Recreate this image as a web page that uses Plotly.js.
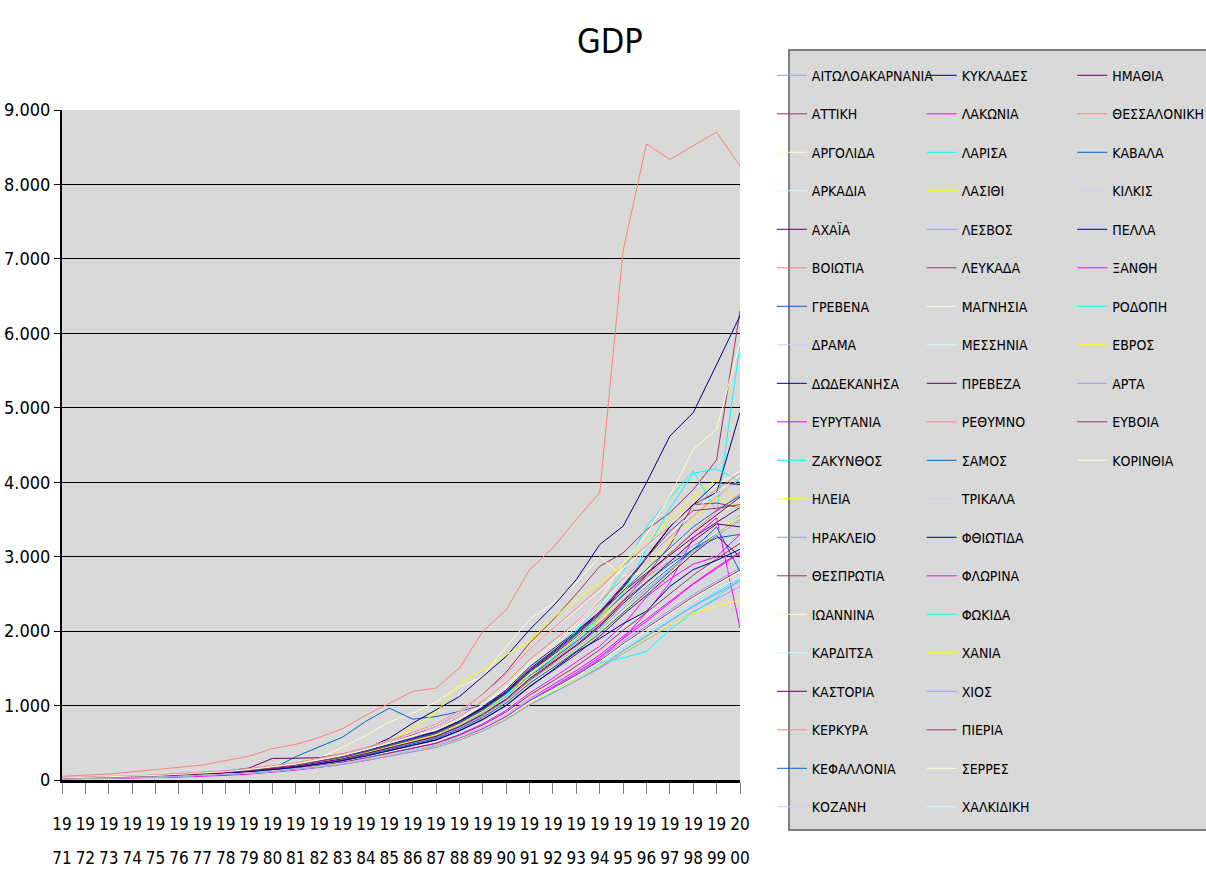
<!DOCTYPE html>
<html>
<head>
<meta charset="utf-8">
<script src="https://cdn.plot.ly/plotly-3.0.1.min.js"></script>
<style>html,body{margin:0;padding:0;background:#fff;}#chart{width:1206px;height:869px;}</style>
</head>
<body>
<div id="chart"></div>
<script>
const years = [1971,1972,1973,1974,1975,1976,1977,1978,1979,1980,1981,1982,1983,1984,1985,1986,1987,1988,1989,1990,1991,1992,1993,1994,1995,1996,1997,1998,1999,2000];
const tickTop = years.map(y => String(y).slice(0,2));
const tickBottom = years.map(y => String(y).slice(2));
const yTicks = [0,1000,2000,3000,4000,5000,6000,7000,8000,9000];

const aitoloakarnania = [20,24,29,35,42,52,63,77,96,119,146,182,220,272,332,392,446,545,665,820,1010,1170,1330,1500,1700,1890,2080,2260,2430,2600];
const attiki = [30,36,45,54,65,80,97,118,146,180,220,278,336,418,510,610,720,900,1150,1450,1840,2150,2500,2871,3050,3360,3590,3900,4300,6300];
const argolida = [30,36,44,52,62,76,92,112,138,172,225,295,440,600,780,898,1050,1256,1390,1794,2153,2378,2647,3000,2740,2800,3100,3400,3600,3700];
const arkadia = [25,30,37,45,55,67,81,99,123,152,186,234,284,352,430,510,580,705,865,1060,1320,1540,1760,2000,2280,2520,2780,3040,3260,3480];
const achaia = [27,32,40,48,59,72,87,106,132,164,200,252,305,378,462,548,640,790,980,1210,1520,1760,2000,2260,2530,2780,3020,3260,3460,3660];
const voiotia = [50,60,80,110,140,170,200,260,320,420,480,570,690,870,1030,1190,1234,1503,1996,2288,2826,3118,3500,3858,7110,8546,8335,8520,8703,8246];
const grevena = [20,25,31,37,45,56,68,84,105,150,314,448,575,790,965,817,852,920,1010,1160,1400,1600,1800,2050,2350,2600,2850,3100,3300,3550];
const drama = [23,28,35,42,51,63,76,93,116,144,176,222,268,334,408,482,548,668,818,1004,1255,1450,1660,1880,2140,2380,2610,2850,3040,3230];
const dodekanisa = [28,33,41,49,60,74,90,110,138,172,210,262,318,420,560,763,942,1121,1390,1660,2019,2333,2692,3163,3409,3993,4620,4935,5580,6236];
const evrytania = [15,18,22,27,33,40,50,62,80,104,132,170,210,262,322,384,440,542,668,830,1040,1220,1400,1620,1900,2250,2650,3250,3522,2041];
const zakynthos = [26,31,39,47,57,70,85,104,130,162,198,250,302,376,460,545,620,760,935,1150,1450,1720,2000,2350,2800,3400,3790,4150,3600,5850];
const ileia = [24,29,36,43,53,65,80,98,122,150,184,232,282,360,520,700,900,1300,1480,1682,1860,2180,2420,2647,2900,3200,3500,3800,4040,3700];
const irakleio = [25,30,38,46,56,69,83,101,126,156,192,242,292,362,442,522,610,760,940,1170,1460,1700,1950,2200,2480,2720,2940,3150,3330,3500];
const thesprotia = [18,22,28,34,41,51,62,76,95,118,145,182,220,272,334,396,452,556,684,846,1060,1230,1410,1600,1830,2040,2250,2460,2640,2820];
const ioannina = [26,31,39,46,56,70,84,103,128,158,194,244,296,366,448,530,602,736,900,1104,1380,1596,1820,2066,2354,2610,2866,3120,3330,3540];
const karditsa = [19,23,29,35,42,52,63,77,96,120,147,185,223,276,338,400,455,556,680,838,1045,1210,1380,1570,1790,1990,2190,2390,2560,2730];
const kastoria = [28,34,43,52,64,80,98,120,160,290,292,300,350,420,500,580,650,790,960,1170,1450,1680,1920,2180,2480,2760,3040,3320,3560,3800];
const kerkyra = [28,34,42,50,61,76,92,112,140,174,212,268,324,402,490,580,680,850,1060,1310,1620,1870,2120,2400,2700,2980,3260,3550,3800,4050];
const kefallonia = [26,31,39,47,57,70,85,104,130,160,196,248,300,372,456,540,612,748,915,1125,1400,1630,1860,2110,2400,2660,2900,3100,3250,3300];
const kozani = [29,35,44,53,64,79,96,117,146,180,222,280,338,420,512,620,720,900,1120,1380,1700,1960,2230,2500,2800,3080,3350,3600,3820,4040];
const kyklades = [27,32,40,48,58,72,88,108,134,166,204,258,312,388,474,562,640,782,958,1178,1470,1710,1960,2240,2580,2980,3400,3700,3860,4935];
const lakonia = [17,21,26,32,39,48,59,73,92,116,144,182,222,276,340,404,462,570,702,870,1090,1280,1470,1680,1930,2160,2400,2640,2860,3060];
const larisa = [25,30,38,46,56,69,84,102,128,158,194,246,298,370,452,534,608,744,912,1120,1400,1640,1890,2170,2500,3100,3650,4120,4180,4000];
const lasithi = [22,27,34,41,50,62,75,92,114,142,175,220,268,336,412,490,560,690,850,1046,1310,1530,1750,1990,2270,2530,2800,3060,3300,3520];
const lesvos = [19,23,29,35,43,53,64,79,98,122,150,188,228,282,346,410,466,572,700,864,1075,1250,1430,1630,1860,2070,2280,2490,2670,2850];
const lefkada = [23,28,35,42,51,63,77,94,117,146,179,226,274,342,420,500,572,704,866,1068,1340,1570,1810,2080,2400,2750,3150,3700,3720,3660];
const magnisia = [30,36,45,54,66,82,100,122,152,188,230,290,350,435,532,640,740,920,1140,1420,1760,2020,2280,2540,2840,3120,3420,3720,3960,4150];
const messinia = [21,25,32,38,47,58,70,86,107,133,164,206,250,310,380,450,512,628,770,950,1190,1380,1580,1800,2050,2280,2510,2740,2930,3120];
const preveza = [22,26,33,40,49,60,73,89,111,138,170,214,260,324,398,472,540,664,816,1004,1260,1470,1690,1930,2220,2480,2760,3040,3280,3000];
const rethymno = [24,29,36,44,53,66,80,98,122,152,186,236,286,356,436,518,590,724,890,1096,1370,1600,1840,2100,2420,2720,3030,3340,3600,3850];
const samos = [23,28,35,42,51,63,76,93,116,144,177,224,272,338,414,490,558,686,842,1036,1300,1510,1730,1970,2250,2520,2800,3100,3400,2800];
const trikala = [18,22,27,33,40,49,60,74,92,115,142,179,217,269,330,392,447,548,672,830,1035,1200,1370,1560,1780,1980,2180,2380,2550,2720];
const fthiotida = [27,33,41,49,60,74,90,110,137,170,208,262,316,392,480,568,646,790,968,1190,1490,1730,1980,2260,2600,3000,3400,3700,3993,3970];
const florina = [20,24,30,36,44,54,66,81,101,126,155,196,238,296,364,434,496,612,756,936,1170,1370,1580,1800,2080,2460,2700,2900,3000,3300];
const fokida = [20,24,30,36,44,54,66,80,100,124,152,190,230,284,346,410,466,570,696,858,1060,1220,1390,1570,1640,1727,2019,2250,2450,2692];
const chania = [25,30,37,45,55,68,82,101,126,156,192,242,294,366,450,534,610,750,922,1136,1420,1660,1910,2180,2520,2850,3200,3500,3800,3650];
const chios = [24,29,36,43,53,65,79,97,121,150,184,232,282,350,428,506,576,706,866,1064,1330,1545,1765,2010,2300,2560,2820,3070,3280,3480];
const pieria = [20,24,30,37,45,55,67,82,102,127,156,196,238,296,362,430,490,602,740,914,1140,1330,1530,1750,2010,2250,2500,2750,2970,3180];
const serres = [18,22,28,33,41,50,61,75,93,116,143,180,218,270,332,394,450,552,678,838,1045,1215,1390,1585,1815,2025,2235,2445,2625,2800];
const chalkidiki = [28,34,42,51,62,77,93,114,142,176,216,272,330,410,500,592,672,822,1005,1236,1545,1790,2050,2340,2680,2980,3290,3600,3860,4100];
const imathia = [24,29,36,44,53,66,80,98,122,151,186,234,284,354,434,514,586,718,882,1086,1360,1585,1815,2070,2370,2650,2930,3210,3440,3400];
const thessaloniki = [32,38,47,56,68,84,102,124,154,190,232,292,352,436,532,640,750,930,1150,1420,1760,2030,2300,2580,2880,3150,3420,3680,3900,4120];
const kavala = [27,32,40,48,59,73,89,108,135,167,204,258,312,388,474,560,636,778,952,1170,1460,1700,1950,2220,2540,2830,3120,3400,3620,3820];
const kilkis = [19,23,29,34,42,52,63,78,97,121,149,187,227,282,346,410,468,574,704,870,1085,1262,1445,1650,1890,2110,2330,2550,2740,2930];
const pella = [22,27,33,40,49,60,73,89,111,138,170,214,260,322,396,470,536,660,812,1000,1250,1480,1720,1900,2100,2267,2600,2826,2950,3100];
const xanthi = [17,20,25,31,38,47,57,71,89,112,139,176,215,268,330,393,450,556,686,850,1066,1250,1440,1650,1900,2130,2380,2630,2840,3050];
const rodopi = [18,22,27,33,40,49,60,73,91,114,140,176,213,264,324,384,438,538,660,814,1010,1170,1340,1520,1740,1940,2140,2340,2520,2700];
const evros = [19,23,28,34,41,51,62,76,94,117,143,180,218,270,330,392,446,548,672,828,1030,1190,1350,1530,1720,1900,2080,2247,2330,2422];
const arta = [18,22,27,33,40,49,60,74,92,114,140,176,212,262,322,382,436,536,658,812,1010,1170,1335,1515,1730,1930,2130,2330,2500,2670];
const evvoia = [26,31,39,47,57,71,86,105,131,162,199,250,304,378,462,548,624,766,940,1158,1450,1700,1960,2260,2620,2980,3340,3620,3650,3700];
const korinthia = [28,34,42,50,61,76,92,112,140,174,214,270,328,408,500,594,676,828,1016,1252,1570,1830,2100,2420,2900,3300,3813,4441,4711,5877];

const seriesNames = ["ΑΙΤΩΛΟΑΚΑΡΝΑΝΙΑ","ΑΤΤΙΚΗ","ΑΡΓΟΛΙΔΑ","ΑΡΚΑΔΙΑ","ΑΧΑΪΑ","ΒΟΙΩΤΙΑ","ΓΡΕΒΕΝΑ","ΔΡΑΜΑ","ΔΩΔΕΚΑΝΗΣΑ","ΕΥΡΥΤΑΝΙΑ","ΖΑΚΥΝΘΟΣ","ΗΛΕΙΑ","ΗΡΑΚΛΕΙΟ","ΘΕΣΠΡΩΤΙΑ","ΙΩΑΝΝΙΝΑ","ΚΑΡΔΙΤΣΑ","ΚΑΣΤΟΡΙΑ","ΚΕΡΚΥΡΑ","ΚΕΦΑΛΛΟΝΙΑ","ΚΟΖΑΝΗ",
"ΚΥΚΛΑΔΕΣ","ΛΑΚΩΝΙΑ","ΛΑΡΙΣΑ","ΛΑΣΙΘΙ","ΛΕΣΒΟΣ","ΛΕΥΚΑΔΑ","ΜΑΓΝΗΣΙΑ","ΜΕΣΣΗΝΙΑ","ΠΡΕΒΕΖΑ","ΡΕΘΥΜΝΟ","ΣΑΜΟΣ","ΤΡΙΚΑΛΑ","ΦΘΙΩΤΙΔΑ","ΦΛΩΡΙΝΑ","ΦΩΚΙΔΑ","ΧΑΝΙΑ","ΧΙΟΣ","ΠΙΕΡΙΑ","ΣΕΡΡΕΣ","ΧΑΛΚΙΔΙΚΗ",
"ΗΜΑΘΙΑ","ΘΕΣΣΑΛΟΝΙΚΗ","ΚΑΒΑΛΑ","ΚΙΛΚΙΣ","ΠΕΛΛΑ","ΞΑΝΘΗ","ΡΟΔΟΠΗ","ΕΒΡΟΣ","ΑΡΤΑ","ΕΥΒΟΙΑ","ΚΟΡΙΝΘΙΑ"];
const seriesValues = [aitoloakarnania,attiki,argolida,arkadia,achaia,voiotia,grevena,drama,dodekanisa,evrytania,zakynthos,ileia,irakleio,thesprotia,ioannina,karditsa,kastoria,kerkyra,kefallonia,kozani,
kyklades,lakonia,larisa,lasithi,lesvos,lefkada,magnisia,messinia,preveza,rethymno,samos,trikala,fthiotida,florina,fokida,chania,chios,pieria,serres,chalkidiki,
imathia,thessaloniki,kavala,kilkis,pella,xanthi,rodopi,evros,arta,evvoia,korinthia];

// style
const palette = ["#9999FF","#993366","#FFFFCC","#CCFFFF","#660066","#FF8080","#0066CC","#CCCCFF","#000080","#FF00FF","#00FFFF","#FFFF00"];
const FONT = "'DejaVu Sans Condensed', 'Liberation Sans Narrow', sans-serif";

const traces = seriesNames.map((name, i) => ({
  type: 'scatter', mode: 'lines', x: years, y: seriesValues[i], name: name,
  line: {color: palette[i % palette.length], width: 1},
  legend: i < 20 ? 'legend' : (i < 40 ? 'legend2' : 'legend3'),
  legendgroup: 'g' + i,
  hoverinfo: 'x+y+name'
}));
// empty helper trace so that the second (year-suffix) tick row axis is drawn
traces.push({type: 'scatter', mode: 'lines', x: years, y: years.map(() => null), xaxis: 'x2', yaxis: 'y',
  showlegend: false, hoverinfo: 'skip'});

function legendCfg(x) {
  return {x: x, xref: 'paper', xanchor: 'left', y: 0.9313, yref: 'container', yanchor: 'top',
    bgcolor: 'rgba(0,0,0,0)', borderwidth: 0, font: {family: FONT, size: 14, color: '#000'},
    tracegroupgap: 17.3, traceorder: 'grouped', itemwidth: 30, maxheight: 900};
}

const layout = {
  width: 1206, height: 869,
  margin: {l: 62, r: 466, t: 110, b: 89, autoexpand: false},
  paper_bgcolor: '#ffffff', plot_bgcolor: '#d9d9d9',
  separators: ',.',
  font: {family: FONT, color: '#000'},
  title: {text: 'GDP', font: {family: FONT, size: 34, color: '#000'}, x: 0.808, xref: 'paper', xanchor: 'center', y: 0.953, yref: 'container', yanchor: 'middle'},
  xaxis: {range: [1971, 2000], tickvals: years, ticktext: tickTop, tickangle: 0, ticks: 'outside', ticklen: 11, tickcolor: '#808080', tickwidth: 1,
    showline: true, linecolor: '#000', linewidth: 3, showgrid: false, zeroline: false, automargin: false,
    tickfont: {family: FONT, size: 17, color: '#000'}, ticklabelstandoff: 16, fixedrange: true},
  xaxis2: {range: [1971, 2000], overlaying: 'x', anchor: 'y', side: 'bottom', tickvals: years, ticktext: tickBottom, tickangle: 0, ticks: '',
    showline: false, showgrid: false, zeroline: false, automargin: false,
    tickfont: {family: FONT, size: 17, color: '#000'}, ticklabelstandoff: 66, fixedrange: true},
  yaxis: {range: [0, 9000], tickvals: yTicks, tickformat: ',', ticks: 'outside', ticklen: 6, tickcolor: '#000',
    showline: true, linecolor: '#000', linewidth: 2, showgrid: true, gridcolor: '#000', gridwidth: 1, zeroline: false, automargin: false,
    tickfont: {family: FONT, size: 18, color: '#000'}, fixedrange: true},
  legend: legendCfg(1.047),
  legend2: legendCfg(1.268),
  legend3: legendCfg(1.490),
  shapes: [{type: 'rect', xref: 'paper', yref: 'paper', x0: 1.0723, x1: 1.70, y0: -0.0746, y1: 1.0896,
    fillcolor: '#d9d9d9', line: {color: '#808080', width: 2}, layer: 'below'}],
  showlegend: true
};

Plotly.newPlot('chart', traces, layout, {displayModeBar: false});
</script>
</body>
</html>
